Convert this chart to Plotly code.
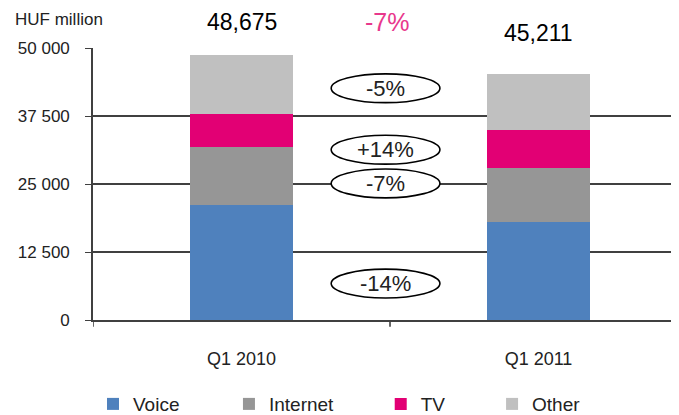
import plotly.graph_objects as go

# data
quarters = ["Q1 2010", "Q1 2011"]
voice = [21140, 18100]
internet = [10720, 9930]
tv = [5950, 6950]
other = [10865, 10231]
totals = ["48,675", "45,211"]
total_change = "-7%"
seg_changes = ["-14%", "-7%", "+14%", "-5%"]
seg_change_y = [6700, 25100, 31300, 42600]   # label centre, HUF million

y_ticks = [0, 12500, 25000, 37500, 50000]
y_ticktext = ["0", "12 500", "25 000", "37 500", "50 000"]

FONT = "Liberation Sans Narrow, Liberation Sans, Arial, sans-serif"
_series = [
    ("Voice", voice, "#4f81bd"),
    ("Internet", internet, "#969696"),
    ("TV", tv, "#e20074"),
    ("Other", other, "#c0c0c0"),
]
_legend_x = [0.0, 0.232, 0.491, 0.681]

fig = go.Figure()
for i, (name, vals, c) in enumerate(_series):
    lg = "legend" if i == 0 else f"legend{i + 1}"
    fig.add_trace(go.Bar(
        x=[0, 1], y=vals, name=name, marker=dict(color=c, line_width=0),
        width=0.345, legend=lg,
    ))

# totals over the bars (paper y, so they are not hidden above the range)
tot_y = [1.096, 1.056]
for i, t in enumerate(totals):
    fig.add_annotation(x=i, y=tot_y[i], yref="paper", yanchor="middle", text=t,
                       showarrow=False, font=dict(size=23, color="black", family=FONT))
fig.add_annotation(x=0.49, y=1.096, yref="paper", yanchor="middle", text=total_change,
                   showarrow=False, font=dict(size=25, color="#e8388c", family=FONT))

# ellipses with segment change
ex, ew, eh = 0.485, 0.366, 5300
for txt, yc in zip(seg_changes, seg_change_y):
    fig.add_shape(type="circle", xref="x", yref="y",
                  x0=ex - ew / 2, x1=ex + ew / 2, y0=yc - eh / 2, y1=yc + eh / 2,
                  fillcolor="white", line=dict(color="black", width=1.6), layer="above")
    fig.add_annotation(x=ex, y=yc, text=txt, showarrow=False,
                       font=dict(size=22, color="#222222", family=FONT))

fig.add_annotation(xref="paper", yref="paper", x=-0.136, y=1.105, xanchor="left",
                   yanchor="middle", text="HUF million", showarrow=False,
                   font=dict(size=17, color="#222222", family=FONT))

fig.update_xaxes(
    type="linear", range=[-0.5, 1.473], tickvals=[0, 1], ticktext=quarters,
    showgrid=False, zeroline=False, showline=True, linecolor="#404040", linewidth=2,
    ticks="", ticklabelstandoff=21, tickfont=dict(size=18, color="#222222"),
    automargin=False,
)
fig.update_yaxes(
    range=[0, 50000], tickvals=y_ticks, ticktext=y_ticktext,
    showgrid=True, gridcolor="#404040", gridwidth=1.6, zeroline=False,
    showline=True, linecolor="#404040", linewidth=1.6,
    ticks="outside", ticklen=6, tickcolor="#404040", ticklabelstandoff=12,
    tickfont=dict(size=17, color="#222222"), automargin=False,
)
# boundary ticks on the x axis
for xb in [-0.5, 0.5]:
    fig.add_shape(type="line", xref="x", yref="paper", x0=xb, x1=xb, y0=0, y1=-0.025,
                  line=dict(color="#404040", width=1.6))

legends = {}
for i, lx in enumerate(_legend_x):
    key = "legend" if i == 0 else f"legend{i + 1}"
    legends[key] = dict(x=lx, y=-0.309, xref="paper", yref="paper", xanchor="left",
                        yanchor="middle", orientation="h", bgcolor="rgba(0,0,0,0)",
                        itemwidth=30, font=dict(size=19, color="#222222", family=FONT))

# the page body has an 8px margin, so the figure is 8px smaller than the window
fig.update_layout(
    barmode="stack", width=671, height=407, bargap=0,
    plot_bgcolor="white", paper_bgcolor="white",
    margin=dict(l=85, r=0, t=40, b=95, autoexpand=False),
    font=dict(family=FONT, color="#222222"),
    showlegend=True,
    **legends,
)

fig.write_html("out.html")
